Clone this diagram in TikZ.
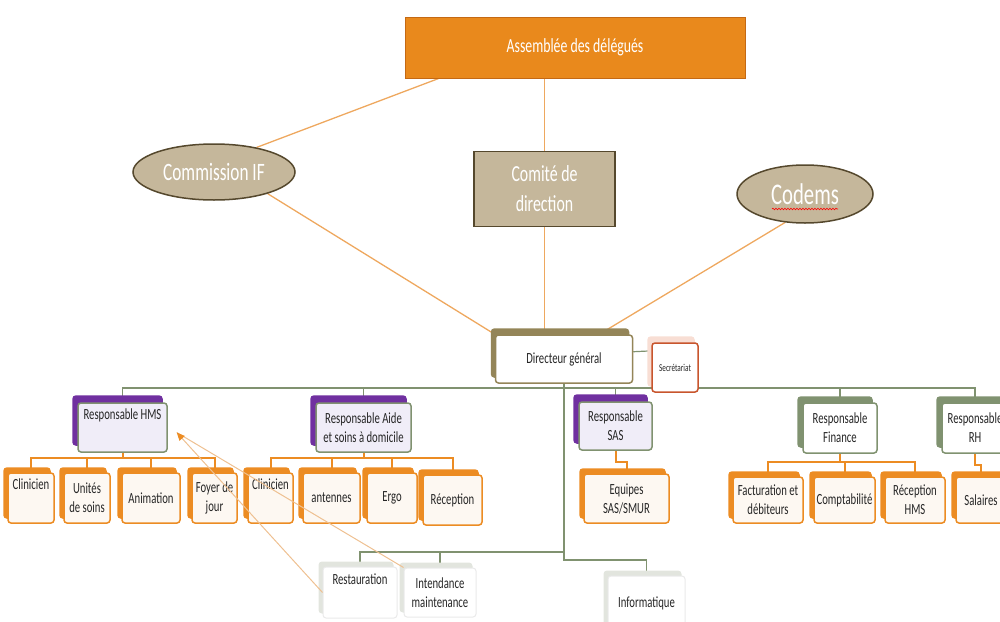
\documentclass[tikz,border=0pt]{standalone}
\usepackage{fontspec}
\setmainfont{Carlito}[FakeStretch=0.69]
\usepackage{tikz}
\usetikzlibrary{calc}
\usetikzlibrary{shapes.geometric}
\usetikzlibrary{shadows}
\usetikzlibrary{arrows.meta}
\usetikzlibrary{backgrounds}
\usetikzlibrary{decorations.pathmorphing}

\definecolor{orgfill}{RGB}{233,137,28}
\definecolor{orgdark}{RGB}{196,105,20}
\definecolor{orgline}{RGB}{236,140,35}
\definecolor{orglink}{RGB}{238,168,95}
\definecolor{orgpale}{RGB}{238,192,145}
\definecolor{tanfill}{RGB}{197,183,155}
\definecolor{tandark}{RGB}{85,72,45}
\definecolor{dgolive}{RGB}{148,133,88}
\definecolor{greyline}{RGB}{128,146,112}
\definecolor{purp}{RGB}{112,48,160}
\definecolor{lavender}{RGB}{240,237,248}
\definecolor{kidfill}{RGB}{253,248,242}
\definecolor{secline}{RGB}{200,85,45}
\definecolor{secback}{RGB}{248,222,212}
\definecolor{lowline}{RGB}{234,234,234}
\definecolor{lowback}{RGB}{226,229,222}

\begin{document}
\begin{tikzpicture}[x=1pt, y=-1pt,
  dims/.style 2 args={minimum width=#1pt, minimum height=#2pt},
  box/.style={rectangle, rounded corners=3pt, line width=1.5pt, inner sep=1.5pt, align=center, text=black!85, font=\fontsize{15.5}{19}\selectfont},
  topbox/.style={rectangle, fill=orgfill, draw=orgdark, line width=1pt, text=white, font=\fontsize{20}{24}\selectfont},
  ovalbox/.style={ellipse, fill=tanfill, draw=tandark, line width=1.5pt, text=white, inner sep=0pt, font=\fontsize{25}{30}\selectfont},
  tanbox/.style={rectangle, fill=tanfill, draw=tandark, line width=1.5pt, text=white, align=center, font=\fontsize{23}{30}\selectfont},
  dgbox/.style={box, fill=white, draw=dgolive, copy shadow={shadow xshift=-4pt, shadow yshift=6pt, fill=dgolive, draw=dgolive}},
  secbox/.style={box, fill=white, draw=secline, font=\fontsize{10.5}{12}\selectfont, copy shadow={shadow xshift=-4pt, shadow yshift=6pt, fill=secback, draw=secback}},
  mgrbox/.style={box, fill=lavender, draw=greyline, copy shadow={shadow xshift=-5pt, shadow yshift=7pt, fill=purp, draw=purp}},
  finbox/.style={box, fill=white, draw=greyline, copy shadow={shadow xshift=-5pt, shadow yshift=6pt, fill=greyline, draw=greyline}},
  kidbox/.style={box, fill=kidfill, draw=orgline, copy shadow={shadow xshift=-4pt, shadow yshift=5pt, fill=orgline, draw=orgline}},
  lowbox/.style={box, fill=white, draw=lowline, line width=1pt, copy shadow={shadow xshift=-4pt, shadow yshift=5pt, fill=lowback, draw=lowback}},
  toplink/.style={draw=orglink, line width=1.3pt},
  greenlink/.style={draw=greyline, line width=1.8pt},
  kidlink/.style={draw=orgline, line width=2pt},
  palelink/.style={draw=orgpale, line width=1pt}
]
\useasboundingbox (0,0) rectangle (1000,621);
\clip (0,0) rectangle (1000,621);

\node[topbox, dims={340}{61}] (ad) at (575,47.5) {Assemblée des délégués};
\node[ovalbox, dims={162}{56}] (cif) at (214,172) {Commission IF};
\node[tanbox, dims={141}{75}] (cdd) at (544.5,189) {Comité de\\direction};
\node[ovalbox, dims={136}{58}, font=\fontsize{30}{34}\selectfont] (codems) at (805,194) {Codems};
\draw[red, line width=0.6pt, decorate, decoration={snake, amplitude=0.8pt, segment length=3pt}] ($(codems.center)+(-33,15)$) -- ++(66,0);

\node[dgbox, dims={137}{48}] (dg) at (564,359) {Directeur général};
\node[secbox, dims={46}{49}] (sec) at (675,367.5) {Secrétariat};

\node[mgrbox, dims={89}{49}, text depth=26pt] (hms) at (122.5,427.5) {Responsable HMS};
\node[mgrbox, dims={95}{49}] (aide) at (363.5,427.5) {Responsable Aide\\et soins à domicile};
\node[mgrbox, dims={73}{48}] (sas) at (615.5,426) {Responsable\\SAS};
\node[finbox, dims={74}{50}] (fin) at (840,428) {Responsable\\Finance};
\node[finbox, dims={66}{50}] (rh) at (975,428) {Responsable\\RH};

\node[kidbox, dims={46}{50}, text depth=27pt] (h1) at (31,498) {Clinicien};
\node[kidbox, dims={46}{50}] (h2) at (87,498) {Unités\\de soins};
\node[kidbox, dims={58}{50}] (h3) at (151,498) {Animation};
\node[kidbox, dims={45}{50}] (h4) at (214.5,498) {Foyer de\\jour};
\node[kidbox, dims={45}{50}, text depth=27pt] (a1) at (270.5,498) {Clinicien};
\node[kidbox, dims={57}{50}] (a2) at (331.5,498) {antennes};
\node[kidbox, dims={50}{50}] (a3) at (392,498) {Ergo};
\node[kidbox, dims={59}{50}] (a4) at (452.5,500) {Réception};
\node[kidbox, dims={85}{49}] (eq) at (626.5,498.5) {Equipes\\SAS/SMUR};
\node[kidbox, dims={70}{46}] (f1) at (768,500) {Facturation et\\débiteurs};
\node[kidbox, dims={61}{46}] (f2) at (844.5,500) {Comptabilité};
\node[kidbox, dims={60}{46}] (f3) at (915,500) {Réception\\HMS};
\node[kidbox, dims={50}{46}] (sal) at (981,500) {Salaires};

\node[lowbox, dims={74}{51}, text depth=26pt] (rest) at (360,592.5) {Restauration};
\node[lowbox, dims={72}{49}] (int) at (440,592.5) {Intendance\\maintenance};
\node[lowbox, dims={77}{54}] (info) at (646.5,603) {Informatique};

\coordinate (topbus) at (0,388);
\coordinate (kidbus) at (0,458);
\coordinate (finbus) at (0,462);
\coordinate (lowbus) at (0,552);
\coordinate (infobus) at (0,560);

\begin{scope}[on background layer]
\draw[toplink] ($(ad.south west)!0.1!(ad.south east)$) -- (cif.30);
\draw[toplink] (cdd.north |- ad.south) -- (cdd.north);
\draw[toplink] (cdd.south) -- (cdd.south |- dg.north);
\draw[toplink] (cif.-22) -- (dg.north west);
\draw[toplink] (codems.235) -- (dg.35);
\draw[greenlink, line width=1.2pt] (dg.6) -- (sec.145);
\draw[greenlink] (hms.north) -- (hms.north |- topbus) -- (rh.north |- topbus) -- (rh.north);
\foreach \m in {aide,sas,fin} \draw[greenlink] (\m.north) -- (\m.north |- topbus);
\draw[kidlink] (hms.south) -- (hms.south |- kidbus);
\draw[kidlink] (h1.north) -- (h1.north |- kidbus) -- (h4.north |- kidbus) -- (h4.north);
\foreach \k in {h2,h3} \draw[kidlink] (\k.north) -- (\k.north |- kidbus);
\draw[kidlink] (aide.south) -- (aide.south |- kidbus);
\draw[kidlink] (a1.north) -- (a1.north |- kidbus) -- (a4.north |- kidbus) -- (a4.north);
\foreach \k in {a2,a3} \draw[kidlink] (\k.north) -- (\k.north |- kidbus);
\draw[kidlink] (fin.south) -- (fin.south |- finbus);
\draw[kidlink] (f1.north) -- (f1.north |- finbus) -- (f3.north |- finbus) -- (f3.north);
\draw[kidlink] (f2.north) -- (f2.north |- finbus);
\draw[kidlink] (sas.south) |- ($(sas.south)!0.5!(eq.north)$) -| (eq.north);
\draw[kidlink] (rh.south) |- ($(rh.south)!0.5!(sal.north)$) -| (sal.north);
\draw[greenlink] (dg.south) -- (dg.south |- infobus) -| (info.north);
\draw[greenlink] (rest.north) -- (rest.north |- lowbus) -- (dg.south |- lowbus);
\draw[greenlink] (int.north) -- (int.north |- lowbus);
\end{scope}

\coordinate (hmstip) at ($(hms.east)+(9,5)$);
\draw[palelink] (int.north west) -- (hmstip);
\draw[palelink, -{Triangle[length=8pt, width=7pt, color=orgline]}] (rest.west) -- (hmstip);
\end{tikzpicture}
\end{document}
